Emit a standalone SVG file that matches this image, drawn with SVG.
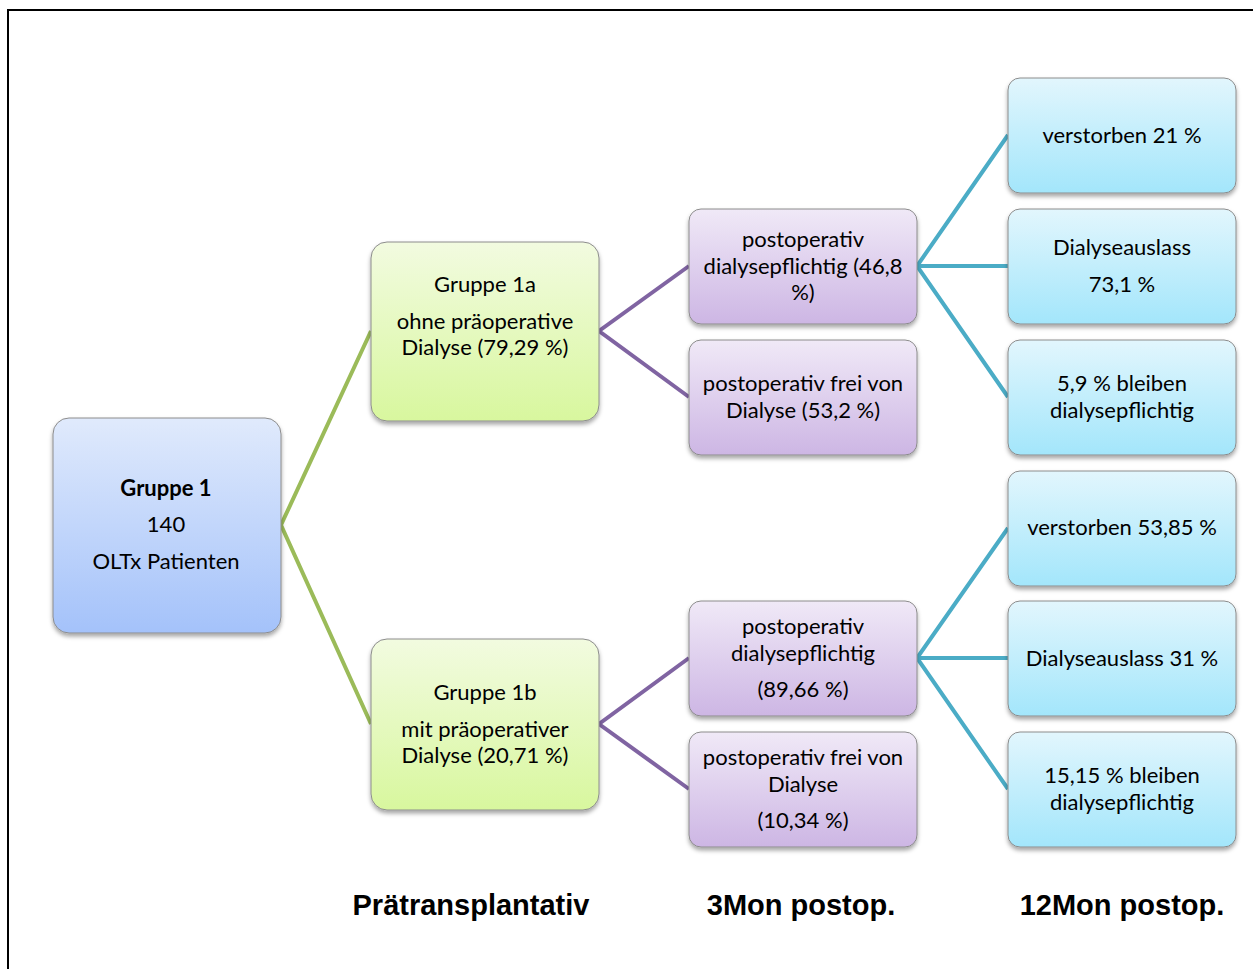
<svg xmlns="http://www.w3.org/2000/svg" width="1253" height="969" viewBox="0 0 1253 969">
<defs>
<linearGradient id="gBlue" x1="0" y1="0" x2="0" y2="1"><stop offset="0" stop-color="#e0eafc"/><stop offset="1" stop-color="#a4c2fa"/></linearGradient>
<linearGradient id="gGreen" x1="0" y1="0" x2="0" y2="1"><stop offset="0" stop-color="#f2fbe0"/><stop offset="1" stop-color="#d8f79e"/></linearGradient>
<linearGradient id="gPurple" x1="0" y1="0" x2="0" y2="1"><stop offset="0" stop-color="#f0e9f7"/><stop offset="1" stop-color="#cdb6e4"/></linearGradient>
<linearGradient id="gCyan" x1="0" y1="0" x2="0" y2="1"><stop offset="0" stop-color="#e2f6fd"/><stop offset="1" stop-color="#a3e6fb"/></linearGradient>
<filter id="sh" x="-10%" y="-10%" width="120%" height="130%"><feDropShadow dx="0" dy="3" stdDeviation="2" flood-color="#000" flood-opacity="0.35"/></filter>
</defs>
<style>
.n{stroke:#8c8c8c;stroke-width:1;filter:url(#sh)}
.t{font-family:Lato,"Open Sans",sans-serif;font-size:22px;fill:#000;text-anchor:middle}
.b{font-weight:bold}
.h{font-family:"Liberation Sans",Arial,sans-serif;font-size:29px;font-weight:bold;text-anchor:middle;fill:#000}
.cg{stroke:#9bbb59;stroke-width:4;fill:none}
.cp{stroke:#8064a2;stroke-width:4;fill:none}
.cc{stroke:#4bacc6;stroke-width:4;fill:none}
</style>
<rect width="1253" height="969" fill="#fff"/>
<path d="M8 969 V10 H1260" fill="none" stroke="#000" stroke-width="2"/>
<g id="connectors">
<path class="cg" d="M371 331 L281 525 L371 724"/>
<path class="cp" d="M689 266 L599 331 L689 397"/>
<path class="cp" d="M689 658 L599 724 L689 789"/>
<path class="cc" d="M1008 135 L917 266 L1008 397 M917 266 H1008"/>
<path class="cc" d="M1008 528 L917 658 L1008 789 M917 658 H1008"/>
</g>
<g id="n1"><rect class="n" x="53" y="418" width="228" height="215" rx="16" fill="url(#gBlue)"/>
<text class="t b" x="166" y="496">Gruppe 1</text><text class="t" x="166" y="532">140</text><text class="t" x="166" y="569">OLTx Patienten</text></g>
<g id="n1a"><rect class="n" x="371" y="242" width="228" height="179" rx="16" fill="url(#gGreen)"/>
<text class="t" x="485" y="292">Gruppe 1a</text><text class="t" x="485" y="329">ohne präoperative</text><text class="t" x="485" y="355">Dialyse (79,29 %)</text></g>
<g id="n1b"><rect class="n" x="371" y="639" width="228" height="171" rx="16" fill="url(#gGreen)"/>
<text class="t" x="485" y="700">Gruppe 1b</text><text class="t" x="485" y="737">mit präoperativer</text><text class="t" x="485" y="763">Dialyse (20,71 %)</text></g>
<g id="p1"><rect class="n" x="689" y="209" width="228" height="115" rx="12" fill="url(#gPurple)"/>
<text class="t" x="803" y="247">postoperativ</text><text class="t" x="803" y="274">dialysepflichtig (46,8</text><text class="t" x="803" y="300">%)</text></g>
<g id="p2"><rect class="n" x="689" y="340" width="228" height="115" rx="12" fill="url(#gPurple)"/>
<text class="t" x="803" y="391">postoperativ frei von</text><text class="t" x="803" y="418">Dialyse (53,2 %)</text></g>
<g id="p3"><rect class="n" x="689" y="601" width="228" height="115" rx="12" fill="url(#gPurple)"/>
<text class="t" x="803" y="634">postoperativ</text><text class="t" x="803" y="661">dialysepflichtig</text><text class="t" x="803" y="697">(89,66 %)</text></g>
<g id="p4"><rect class="n" x="689" y="732" width="228" height="115" rx="12" fill="url(#gPurple)"/>
<text class="t" x="803" y="765">postoperativ frei von</text><text class="t" x="803" y="792">Dialyse</text><text class="t" x="803" y="828">(10,34 %)</text></g>
<g id="c1"><rect class="n" x="1008" y="78" width="228" height="115" rx="12" fill="url(#gCyan)"/>
<text class="t" x="1122" y="143">verstorben 21 %</text></g>
<g id="c2"><rect class="n" x="1008" y="209" width="228" height="115" rx="12" fill="url(#gCyan)"/>
<text class="t" x="1122" y="255">Dialyseauslass</text><text class="t" x="1122" y="292">73,1 %</text></g>
<g id="c3"><rect class="n" x="1008" y="340" width="228" height="115" rx="12" fill="url(#gCyan)"/>
<text class="t" x="1122" y="391">5,9 % bleiben</text><text class="t" x="1122" y="418">dialysepflichtig</text></g>
<g id="c4"><rect class="n" x="1008" y="471" width="228" height="115" rx="12" fill="url(#gCyan)"/>
<text class="t" x="1122" y="535">verstorben 53,85 %</text></g>
<g id="c5"><rect class="n" x="1008" y="601" width="228" height="115" rx="12" fill="url(#gCyan)"/>
<text class="t" x="1122" y="666">Dialyseauslass 31 %</text></g>
<g id="c6"><rect class="n" x="1008" y="732" width="228" height="115" rx="12" fill="url(#gCyan)"/>
<text class="t" x="1122" y="783">15,15 % bleiben</text><text class="t" x="1122" y="810">dialysepflichtig</text></g>
<text class="h" x="471" y="915">Prätransplantativ</text>
<text class="h" x="801" y="915">3Mon postop.</text>
<text class="h" x="1122" y="915">12Mon postop.</text>
</svg>
